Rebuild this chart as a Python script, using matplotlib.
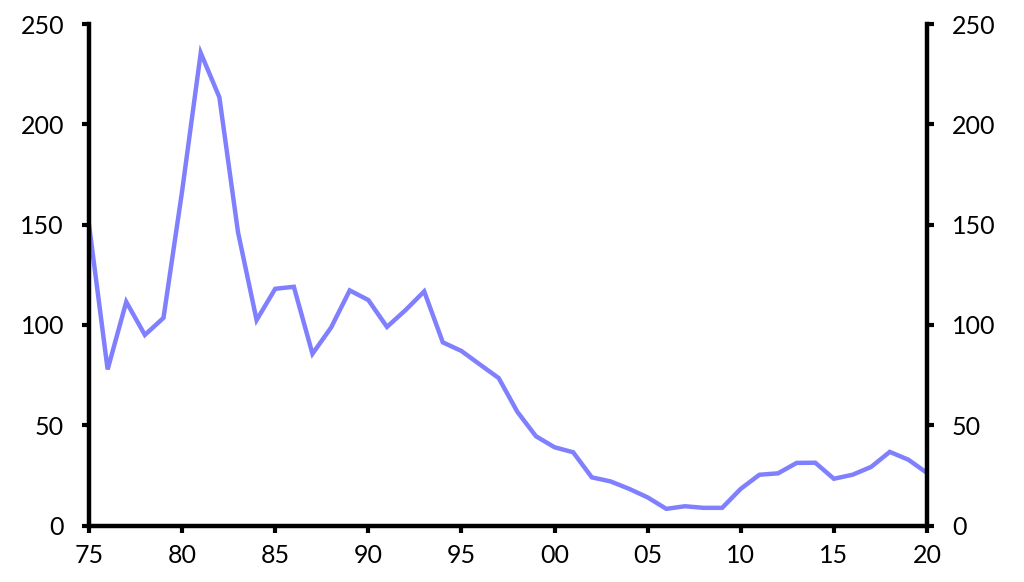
import numpy as np
import matplotlib.pyplot as plt

plt.rcParams['font.family'] = ['Lato', 'DejaVu Sans']

# annual values
years = list(range(1975, 2021))
values = [150, 77.8, 111.5, 95, 103.5, 166.7, 235.6, 213.5, 146.3, 102.4,
          118, 119, 85.6, 98.7, 117.2, 112.4, 99, 107.4, 116.7, 91.3,
          87, 80.2, 73.5, 56.7, 44.5, 39, 36.5, 24, 22, 18.3,
          14, 8.3, 9.6, 8.8, 8.8, 18.3, 25.3, 26, 31.2, 31.3,
          23.3, 25.3, 29.2, 36.7, 32.8, 26.2]

x_ticks = list(range(1975, 2021, 5))
x_labels = [f"{y % 100:02d}" for y in x_ticks]
y_ticks = [0, 50, 100, 150, 200, 250]

fig = plt.figure(figsize=(10.24, 5.82), dpi=100)
# axes box in figure fractions, matched to the spines of the reference
ax = fig.add_axes([89 / 1024, 1 - 525.5 / 582, 838 / 1024, 501.5 / 582])

ax.plot(years, values, color='#8080ff', linewidth=3.2, solid_joinstyle='miter')

ax.set_xlim(1975, 2020)
ax.set_ylim(0, 250)
ax.set_xticks(x_ticks)
ax.set_xticklabels(x_labels)
ax.set_yticks(y_ticks)

for side in ['left', 'bottom', 'right']:
    ax.spines[side].set_linewidth(3.2)
ax.spines['top'].set_visible(False)

ax.tick_params(axis='both', direction='out', length=5, width=3,
               labelsize=18, colors='black')
ax.tick_params(axis='y', right=True, labelright=True, pad=13)
ax.tick_params(axis='x', pad=8)

fig.savefig('out.png', dpi=100)
